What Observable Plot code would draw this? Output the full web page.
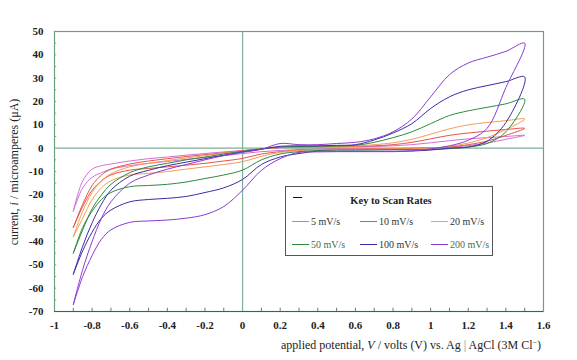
<!DOCTYPE html>
<html><head><meta charset="utf-8">
<script src="https://cdn.jsdelivr.net/npm/d3@7"></script>
<script src="https://cdn.jsdelivr.net/npm/@observablehq/plot@0.6"></script>
<style>
html,body{margin:0;padding:0;background:#fff;}
#chart{width:577px;height:360px;overflow:hidden;}
</style></head><body><div id="chart"></div>
<script>
// ---- data ----
const potentials = [-0.9,-0.85,-0.8,-0.75,-0.7,-0.6,-0.5,-0.4,-0.3,-0.2,-0.1,0,0.1,0.2,0.3,0.4,0.5,0.6,0.7,0.8,0.9,1.0,1.1,1.2,1.3,1.4,1.5];
const scanRates = ["5 mV/s","10 mV/s","20 mV/s","50 mV/s","100 mV/s","200 mV/s"];
const rateColors = ["#d070d4","#e8524a","#f59c58","#2f8a3c","#3b2ca4","#8a3cd2"];

// positive-going scan (-0.9 V -> 1.5 V), current in microamperes
const forward5   = [-27,-14,-9,-7.5,-6.8,-5.5,-4.5,-3.8,-3.0,-2.3,-1.6,-1.0,-0.3,0.2,0.4,0.5,0.5,0.6,0.7,1.0,1.5,2.3,3.2,4.0,4.5,5.0,5.5];
const forward10  = [-34,-24,-16,-11.5,-9,-6.8,-5.5,-4.5,-3.6,-2.8,-2.0,-1.1,-0.3,0.3,0.5,0.6,0.7,0.8,1.0,1.5,2.5,4.0,5.5,6.5,7.3,8.0,8.5];
const forward20  = [-38,-27,-19,-14,-11,-8,-6.5,-5.3,-4.2,-3.2,-2.2,-1.2,-0.3,0.3,0.6,0.7,0.8,0.9,1.5,2.3,3.8,6.0,8.3,10.0,11.0,11.8,12.5];
const forward50  = [-45,-35,-26,-20,-15.5,-10.5,-8,-6.5,-5,-3.8,-2.5,-1.3,-0.3,0.5,0.7,0.8,0.9,1.2,2.5,4.5,7.0,10.5,14.0,16.0,17.5,19.0,21.0];
const forward100 = [-54,-42,-32,-24,-18,-12,-9.5,-7.5,-6,-4.5,-3,-1.6,-0.4,0.8,1.0,1.0,1.2,1.5,3.5,6.5,10.5,17.0,22.0,25.0,26.8,28.5,30.5];
const forward200 = [-67,-52,-40,-30,-23,-15,-11.5,-9,-7,-5,-3.2,-1.8,-0.5,2.0,1.5,1.5,2.0,2.5,4.0,7.0,12.5,22.0,31.5,36.5,39.0,41.5,45.0];

// negative-going scan (1.5 V -> -0.9 V), same potential grid
const reverse5   = [-27,-17,-12.5,-10.5,-9,-7.5,-6.5,-5.7,-4.8,-4.0,-3.2,-2.3,-1.5,-1.0,-0.6,-0.4,-0.3,-0.3,-0.2,-0.1,0,0.1,0.4,1.1,2.2,3.8,5.5];
const reverse10  = [-34,-25,-18,-14,-11.5,-9.4,-8.7,-8.0,-7.3,-6.5,-5.5,-4.4,-2.5,-1.5,-0.8,-0.5,-0.4,-0.4,-0.3,-0.2,-0.1,0.1,0.5,1.5,3.0,5.5,8.5];
const reverse20  = [-38,-30,-22,-17,-14,-11.5,-10.8,-10,-9,-8,-7,-5.8,-3.5,-1.8,-1.0,-0.6,-0.5,-0.5,-0.4,-0.3,-0.3,0,0.8,2.2,4.5,8.0,12.5];
const reverse50  = [-45,-34,-27,-22,-19,-16.5,-16,-15.5,-14.5,-13,-11.5,-9.4,-5.0,-2.5,-1.5,-1.0,-0.8,-0.8,-0.7,-0.6,-0.6,-0.6,-0.2,0.5,2.0,7.0,21.0];
const reverse100 = [-54,-44,-36,-30,-26.5,-23,-22,-21.5,-20.7,-19,-17,-13.4,-7,-3.8,-2.3,-1.3,-1.3,-1.3,-1.3,-1.3,-1.2,-0.8,0,0.5,3.0,11.0,30.5];
const reverse200 = [-67,-55,-46,-39,-35,-31.8,-31.2,-30.8,-30,-28.5,-25,-18,-9.5,-4.5,-1.8,-1.6,-1.5,-1.5,-1.5,-1.5,-1.2,-0.3,1.0,3.4,8.5,26.0,45.0];

const xTicks = [-1,-0.8,-0.6,-0.4,-0.2,0,0.2,0.4,0.6,0.8,1,1.2,1.4,1.6];
const yTicks = [-70,-60,-50,-40,-30,-20,-10,0,10,20,30,40,50];
const xMinorTicks = [-0.9,-0.8,-0.7,-0.6,-0.5,-0.4,-0.3,-0.2,-0.1,0.1,0.2,0.3,0.4,0.5,0.6,0.7,0.8,0.9,1,1.1,1.2,1.3,1.4,1.5];
const yMinorTicks = [-65,-60,-55,-50,-45,-40,-35,-30,-25,-20,-15,-10,-5,5,10,15,20,25,30,35,40,45];

// ---- build table ----
const forwardScans = [forward5,forward10,forward20,forward50,forward100,forward200];
const reverseScans = [reverse5,reverse10,reverse20,reverse50,reverse100,reverse200];
const rows = [];
scanRates.forEach((rate,k)=>{
  potentials.forEach((v,i)=>rows.push({rate, V:v, I:forwardScans[k][i]}));
  for (let i=potentials.length-2;i>=0;i--) rows.push({rate, V:potentials[i], I:reverseScans[k][i]});
});

const W=577,H=360,ML=54,MR=34,MT=31,MB=49;
const chart = Plot.plot({
  width:W, height:H, marginLeft:ML, marginRight:MR, marginTop:MT, marginBottom:MB,
  x:{domain:[-1,1.6]},
  y:{domain:[-70,50]},
  color:{domain:scanRates, range:rateColors},
  style:{fontFamily:"'Liberation Serif', 'Times New Roman', serif", fontSize:"11px", color:"#222", background:"#fff", overflow:"visible"},
  marks:[
    Plot.ruleX([0],{stroke:"#7fae9c",strokeWidth:1.2}),
    Plot.ruleY([0],{stroke:"#7fae9c",strokeWidth:1.2}),
    Plot.line(rows,{x:"V",y:"I",z:"rate",stroke:"rate",strokeWidth:1,curve:"catmull-rom"}),
    Plot.frame({stroke:"#6aa27e",strokeWidth:1.2}),
    Plot.ruleY([-70],{stroke:"#555",strokeWidth:1.2}),
    Plot.ruleX(xMinorTicks,{y1:-70,y2:-68.6,stroke:"#777"}),
    Plot.ruleY(yMinorTicks,{x1:-1,x2:-0.988,stroke:"#999"}),
    Plot.axisX({ticks:xTicks, tickSize:0, tickPadding:10, tickFormat:d=>String(d), label:null}),
    Plot.axisY({ticks:yTicks, tickSize:0, tickPadding:11, tickFormat:d=>String(d), label:null})
  ]
});
d3.select(chart).selectAll("[aria-label='x-axis tick label'] text, [aria-label='y-axis tick label'] text")
  .style("font-weight","bold").style("fill","#222");
document.getElementById("chart").appendChild(chart);

const svg = d3.select(chart);
const serif = "'Liberation Serif', 'Times New Roman', serif";

// axis titles
const xl = svg.append("text").attr("x",541).attr("y",349).attr("text-anchor","end")
  .attr("font-family",serif).attr("font-size",12).attr("fill","#222");
xl.append("tspan").text("applied potential, ");
xl.append("tspan").attr("font-style","italic").text("V");
xl.append("tspan").text(" / volts (V) vs. Ag ");
xl.append("tspan").attr("fill","#3aa0a0").text("|");
xl.append("tspan").text(" AgCl (3M Cl");
xl.append("tspan").attr("font-size",8).attr("dy",-4).text("−");
xl.append("tspan").attr("dy",4).text(")");

const yl = svg.append("text").attr("transform","translate(18,172) rotate(-90)").attr("text-anchor","middle")
  .attr("font-family",serif).attr("font-size",12).attr("fill","#222");
yl.append("tspan").text("current, ");
yl.append("tspan").attr("font-style","italic").text("i");
yl.append("tspan").text(" / microamperes (μA)");

// legend box
const lg = svg.append("g").attr("font-family",serif).attr("font-size",10).attr("fill","#333").attr("text-anchor","start");
lg.append("rect").attr("x",285.5).attr("y",186.5).attr("width",207).attr("height",69)
  .attr("fill","#fff").attr("stroke","#555");
lg.append("line").attr("x1",293).attr("x2",302).attr("y1",197.5).attr("y2",197.5).attr("stroke","#111");
lg.append("text").attr("x",391).attr("y",204).attr("text-anchor","middle").attr("font-weight","bold")
  .attr("font-size",10.5).attr("fill","#222").text("Key to Scan Rates");
const slots = [[292,221],[360,221],[431,221],[292,244],[360,244],[431,244]];
const textColors = ["#333","#333","#333","#3f6f55","#333","#3f6f55"];
scanRates.forEach((r,i)=>{
  const [x,y]=slots[i];
  lg.append("line").attr("x1",x).attr("x2",x+17).attr("y1",y+0.5).attr("y2",y+0.5).attr("stroke",rateColors[i]);
  lg.append("text").attr("x",x+19).attr("y",y+3.5).attr("text-anchor","start").attr("fill",textColors[i]).text(r);
});
</script></body></html>
